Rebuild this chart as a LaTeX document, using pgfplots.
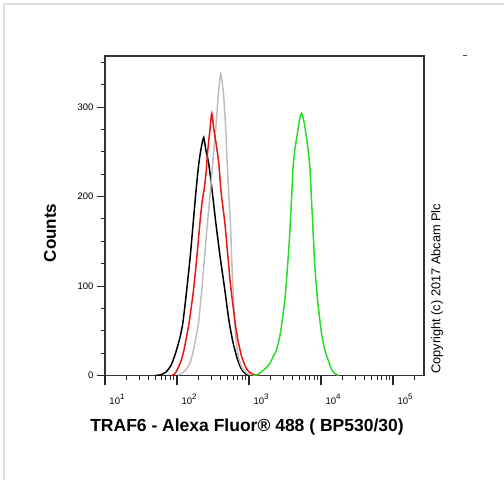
\documentclass[border=0pt]{standalone}
\usepackage{fontspec}
\setmainfont{Liberation Sans}
\usepackage{pgfplots}
\pgfplotsset{compat=1.18}
\definecolor{fgreen}{RGB}{40,220,40}
\definecolor{fred}{RGB}{235,20,20}
\definecolor{fgray}{RGB}{190,190,190}
\definecolor{framegray}{RGB}{222,222,222}
\newcommand{\dec}[1]{10\raisebox{4.5pt}{\fontsize{8}{8}\selectfont #1}}
\begin{document}
\begin{tikzpicture}[x=1pt,y=1pt]
\path[use as bounding box] (0,0) rectangle (504,480);
\draw[framegray, line width=2pt] (4,0) -- (4,476) -- (504,476);
\begin{axis}[
  at={(105pt,104.5pt)}, anchor=south west,
  width=319pt, height=319.5pt, scale only axis,
  xmode=log, xmin=10, xmax=269150, ymin=0, ymax=357,
  clip=false,
  axis line style={line width=1.2pt, black!80},
  tick align=outside, tick pos=left,
  xtick={10,100,1000,10000,100000},
  xticklabels={\dec{1},\dec{2},\dec{3},\dec{4},\dec{5}},
  x tick style={draw=none},
  ytick={0,100,200,300},
  minor ytick={25,50,75,125,150,175,225,250,275,325,350},
  major tick length=8pt, minor tick length=4.5pt,
  every tick/.style={black!85, line width=0.9pt},
  /pgf/number format/assume math mode=true,
  ticklabel style={font=\fontsize{9.5}{10}\selectfont},
  xticklabel style={xshift=12pt, yshift=-7pt},
  no markers,
]
% black
\addplot[black, line width=1.5pt, smooth, tension=0.35] coordinates {
(50.1,0)(60.3,1)(70.8,4)(83.2,12)(95.5,25)(109.6,42)(120.2,58)(134.9,92)(151.4,130)(166.0,166)(182.0,203)(199.5,235)(216.3,254)(235.0,266)(251.2,252)(275.4,237)(309.0,205)(346.7,170)(398.1,132)(457.1,98)(524.8,62)(602.6,36)(691.8,18)(776.2,8)(891.3,2)(1047,0)};
% gray
\addplot[fgray, line width=1.5pt, smooth, tension=0.35] coordinates {
(100,0)(114.8,2)(131.8,6)(151.4,14)(166.0,25)(186.2,45)(199.5,60)(218.8,92)(239.9,130)(263.0,168)(288.4,203)(316.2,241)(346.7,278)(375.8,315)(404.6,337)(441.6,315)(473.2,278)(495.5,241)(522.4,203)(549.5,174)(575.4,130)(597.0,99)(631.0,62)(660.7,40)(699.8,24)(758.6,13)(822.2,7)(912.0,3)(1047,0)};
% red
\addplot[fred, line width=1.5pt, smooth, tension=0.35] coordinates {
(85.1,0)(93.3,2)(100,6)(112.2,15)(123.0,26)(134.9,42)(147.9,60)(169.8,96)(188.4,132)(208.9,172)(223.9,195)(237.1,207)(254.1,228)(266.1,250)(285.1,273)(304.1,293)(323.6,276)(350.8,258)(380.2,237)(409.3,205)(462.4,170)(512.9,130)(555.9,100)(638.3,60)(699.8,40)(785.2,22)(891.3,10)(1000,4)(1175,1)(1413,0)};
% green
\addplot[fgreen, line width=1.5pt, smooth, tension=0.35] coordinates {
(1122,0)(1318,1)(1479,4)(1698,8)(1936,13)(2188,22)(2399,28)(2723,47)(3141,84)(3420,121)(3681,159)(3890,196)(4093,233)(4325,252)(4710,271)(5012,285)(5358,293)(5754,285)(6152,271)(6622,252)(6998,233)(7379,196)(7780,159)(8222,121)(8954,84)(10162,47)(11324,28)(12589,17)(13804,8)(15136,3)(17378,0)};
% x-axis ticks
\pgfplotsinvokeforeach{10,100,1000,10000,100000}{
  \draw[black!85, line width=1.1pt] (axis cs:#1,0) -- (axis cs:#1,-10.5);
}
\pgfplotsinvokeforeach{20,30,40,50,60,70,80,90,200,300,400,500,600,700,800,900,2000,3000,4000,5000,6000,7000,8000,9000,20000,30000,40000,50000,60000,70000,80000,90000,200000}{
  \draw[black!85, line width=0.9pt] (axis cs:#1,0) -- (axis cs:#1,-5.2);
}
\end{axis}
\node[rotate=90, font=\bfseries\fontsize{17}{19}\selectfont] at (50,247) {Counts};
\node[font=\bfseries\fontsize{17.5}{20}\selectfont] at (247,53) {TRAF6 - Alexa Fluor® 488 ( BP530/30)};
\node[rotate=90, anchor=west, font=\fontsize{12.8}{14}\selectfont, inner sep=0pt] at (437,106) {Copyright (c) 2017 Abcam Plc};
\draw[black!70, line width=1pt] (463,424) -- (467,424);
\end{tikzpicture}
\end{document}
